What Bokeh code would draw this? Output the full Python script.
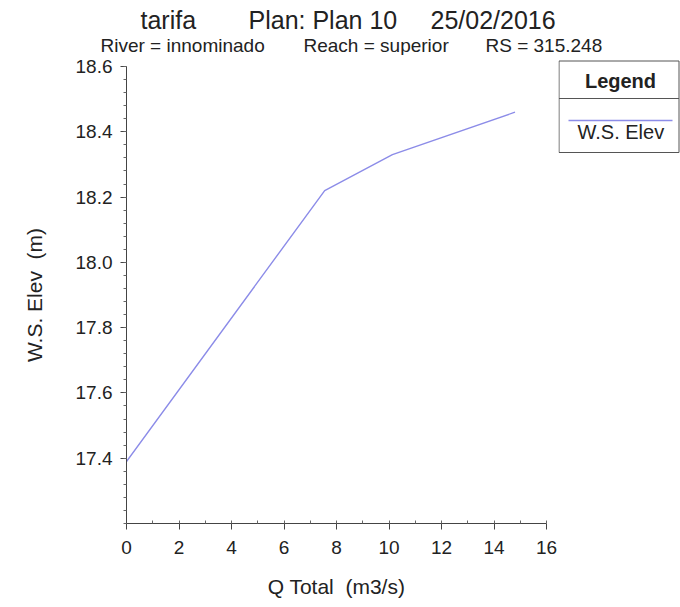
from bokeh.plotting import figure
from bokeh.models import Range1d, FixedTicker, NumeralTickFormatter
from bokeh.layouts import column, row
from bokeh.core.properties import value
from bokeh.embed import file_html
from bokeh.resources import INLINE

# ---- data ----
q_total = [0.0, 7.55, 10.13, 14.8]
ws_elev = [17.39, 18.22, 18.33, 18.46]
x_ticks = [0, 2, 4, 6, 8, 10, 12, 14, 16]
y_ticks = [17.4, 17.6, 17.8, 18.0, 18.2, 18.4, 18.6]
title_parts = ["tarifa", "Plan: Plan 10", "25/02/2016"]
subtitle_parts = ["River = innominado", "Reach = superior", "RS = 315.248"]
series_name = "W.S. Elev"
legend_title = "Legend"
x_label = "Q Total  (m3/s)"
y_label = "W.S. Elev  (m)"

NB = "\u00a0"
FONT = "Liberation Sans"
TXT = "#222222"
LINE = "#8c8ce8"
BOX = "#555555"

TOTAL_W, TOTAL_H = 680, 607
HEAD_H = 55
MAIN_W = 558
BODY_H = TOTAL_H - HEAD_H
FL, FW, FH = 126, 420, 457
FT = 66 - HEAD_H


def no_align(f):
    if "frame_align" in f.properties():
        f.frame_align = False
    return f


def blank(width, height):
    f = figure(width=width, height=height, output_backend="svg", toolbar_location=None,
               x_range=Range1d(0, width), y_range=Range1d(height, 0),
               x_axis_location=None, y_axis_location=None,
               min_border=0, min_border_left=0, min_border_right=0,
               min_border_top=0, min_border_bottom=0)
    f.outline_line_color = None
    f.grid.visible = False
    f.background_fill_color = "white"
    f.border_fill_color = "white"
    return no_align(f)


# ---- header with title lines (page pixel coordinates) ----
head = blank(TOTAL_W, HEAD_H)
head.text(x=[140, 248, 430], y=[19, 19, 19], text=title_parts,
          text_font=value(FONT), text_font_size="25px", text_color=TXT,
          text_baseline="middle", text_align="left")
head.text(x=[100, 303, 485], y=[44.5, 44.5, 44.5], text=subtitle_parts,
          text_font=value(FONT), text_font_size="19px", text_color=TXT,
          text_baseline="middle", text_align="left")

# ---- main chart ----
p = figure(width=MAIN_W, height=BODY_H, output_backend="svg", toolbar_location=None,
           x_range=Range1d(0, 16), y_range=Range1d(17.2, 18.6),
           min_border_left=FL, min_border_top=FT,
           min_border_right=MAIN_W - FL - FW, min_border_bottom=BODY_H - FT - FH)
no_align(p)
p.outline_line_color = None
p.xgrid.visible = False
p.ygrid.visible = False
p.border_fill_color = "white"

p.line(q_total, ws_elev, line_color=LINE, line_width=1.4)

for ax in (p.xaxis[0], p.yaxis[0]):
    ax.axis_line_color = "#444444"
    ax.major_tick_line_color = "#444444"
    ax.minor_tick_line_color = "#666666"
    ax.major_label_text_font = FONT
    ax.major_label_text_font_size = "19px"
    ax.major_label_text_color = TXT
    ax.major_tick_out = 6
    ax.major_tick_in = 0
    ax.axis_label_text_font = FONT
    ax.axis_label_text_font_size = "21px"
    ax.axis_label_text_font_style = "normal"
    ax.axis_label_text_color = TXT

p.xaxis.ticker = FixedTicker(ticks=x_ticks, minor_ticks=list(range(0, 17)))
p.xaxis.minor_tick_in = 3
p.xaxis.minor_tick_out = 0
p.xaxis.major_label_standoff = 11
p.xaxis.axis_label = x_label.replace("  ", " " + NB)
p.xaxis.axis_label_standoff = 18

p.yaxis.ticker = FixedTicker(ticks=y_ticks,
                             minor_ticks=[round(17.2 + 0.04 * i, 2) for i in range(36)])
p.yaxis.formatter = NumeralTickFormatter(format="0.0")
p.yaxis.minor_tick_in = 0
p.yaxis.minor_tick_out = 3
p.yaxis.major_label_standoff = 8
p.yaxis.axis_label = y_label.replace("  ", " " + NB)
p.yaxis.axis_label_standoff = 27

# ---- legend panel (page pixel coordinates shifted by the header height) ----
LW = TOTAL_W - MAIN_W
lg = blank(LW, BODY_H)
top, sep, smp, bot = 60 - HEAD_H, 98 - HEAD_H, 120 - HEAD_H, 152 - HEAD_H
lg.quad(left=[0.5], right=[LW - 1.5], top=[top + 0.5], bottom=[bot], fill_color="white",
        line_color=BOX, line_width=1)
lg.segment(x0=[0.5], y0=[sep], x1=[LW - 1.5], y1=[sep], line_color=BOX, line_width=1)
lg.segment(x0=[10], y0=[smp], x1=[LW - 8], y1=[smp], line_color=LINE, line_width=1.4)
lg.text(x=[62], y=[80.5 - HEAD_H], text=[legend_title], text_font=value(FONT),
        text_font_size="20px", text_font_style="bold", text_color=TXT,
        text_align="center", text_baseline="middle")
lg.text(x=[19], y=[131 - HEAD_H], text=[series_name], text_font=value(FONT),
        text_font_size="20px", text_color=TXT, text_align="left",
        text_baseline="middle")

layout = column(head, row(p, lg, spacing=0), spacing=0)
open("out.html", "w").write(file_html(layout, INLINE))
